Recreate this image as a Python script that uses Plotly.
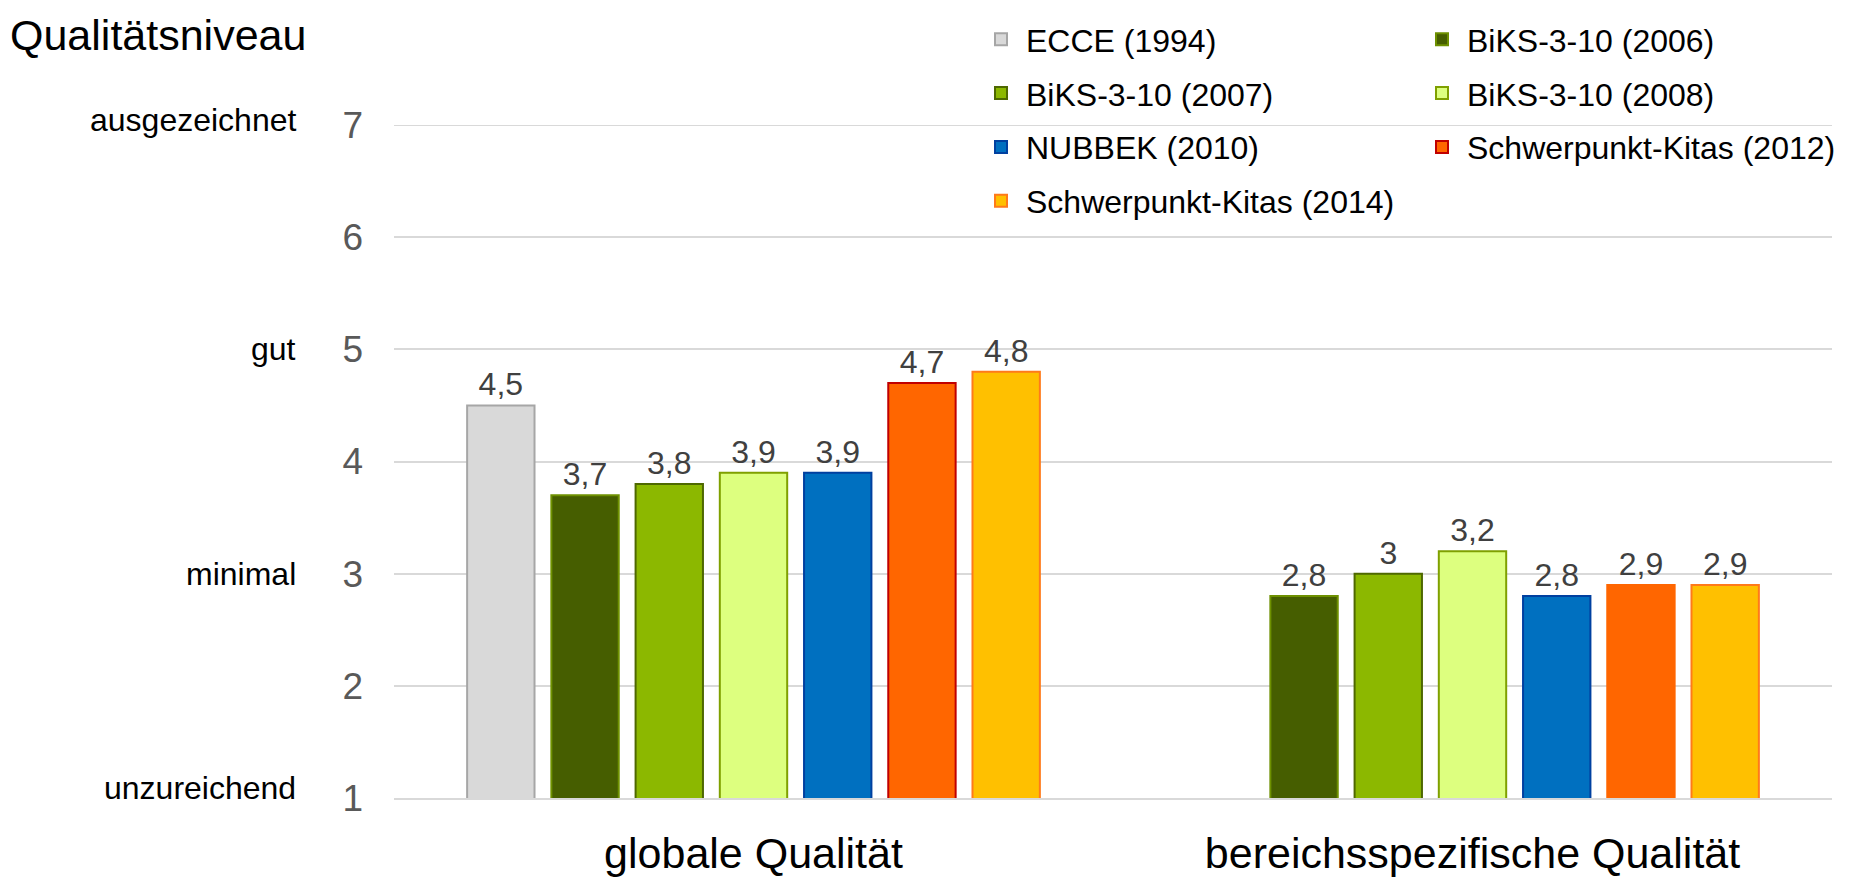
import plotly.graph_objects as go

categories = ["globale Qualität", "bereichsspezifische Qualität"]

series_names = [
    "ECCE (1994)",
    "BiKS-3-10 (2006)",
    "BiKS-3-10 (2007)",
    "BiKS-3-10 (2008)",
    "NUBBEK (2010)",
    "Schwerpunkt-Kitas (2012)",
    "Schwerpunkt-Kitas (2014)",
]

ecce_1994 = [4.5, None]
biks_2006 = [3.7, 2.8]
biks_2007 = [3.8, 3.0]
biks_2008 = [3.9, 3.2]
nubbek_2010 = [3.9, 2.8]
schwerpunkt_2012 = [4.7, 2.9]
schwerpunkt_2014 = [4.8, 2.9]

series_values = [ecce_1994, biks_2006, biks_2007, biks_2008,
                 nubbek_2010, schwerpunkt_2012, schwerpunkt_2014]

fill_colors = ["#D9D9D9", "#465E00", "#8CB800", "#DDFF7F", "#0070C0", "#FF6600", "#FFC000"]
line_colors = [
    "#A6A6A6",
    "#6E9000",
    "#4E6800",
    "#7FA000",
    "#0040A0",
    ["#C00000", "#FF6600"],
    "#FF7A1A",
]

level_names = ["ausgezeichnet", "gut", "minimal", "unzureichend"]
level_values = [7, 5, 3, 1]
level_shift = [5, 0, 0, 10]

y_ticks = [1, 2, 3, 4, 5, 6, 7]

FONT = "Liberation Sans, Arial, sans-serif"

# figure geometry (pixels)
W, H = 1855, 889
L, R, T, B = 394, 23, 120, 69
pw, ph = W - L - R, H - T - B


def px_x(x):
    return (x - L) / pw


def px_y(y):
    return (H - B - y) / ph


def fmt(v):
    if v is None:
        return ""
    return f"{v:g}".replace(".", ",")


# legend positions (legend box left x, row centre y) in pixels
legend_pos = [
    (976, 31), (1417, 31),
    (976, 87), (1417, 87),
    (976, 143), (1417, 143),
    (976, 199),
]

fig = go.Figure()
layout_legends = {}
for i, (name, vals) in enumerate(zip(series_names, series_values)):
    lname = "legend" if i == 0 else f"legend{i + 1}"
    fig.add_trace(go.Bar(
        x=categories,
        y=vals,
        name=name,
        marker=dict(color=fill_colors[i], line=dict(color=line_colors[i], width=2)),
        text=[fmt(v) for v in vals],
        textposition="outside",
        textfont=dict(family=FONT, size=32, color="#404040"),
        cliponaxis=False,
        legend=lname,
    ))
    lx, ly = legend_pos[i]
    layout_legends[lname] = dict(
        x=px_x(lx), y=px_y(ly), xanchor="left", yanchor="middle",
        xref="paper", yref="paper", itemwidth=40,
        font=dict(family=FONT, size=32, color="#000000"),
        bgcolor="rgba(0,0,0,0)",
        itemclick=False, itemdoubleclick=False,
    )

annotations = [
    dict(text="Qualitätsniveau", xref="paper", yref="paper",
         x=px_x(8), y=px_y(26), xanchor="left", yanchor="middle",
         showarrow=False, font=dict(family=FONT, size=43, color="#000000")),
]
for name, val, sh in zip(level_names, level_values, level_shift):
    annotations.append(dict(
        text=name, xref="paper", yref="y", x=px_x(298), y=val, yshift=sh,
        xanchor="right", yanchor="middle", showarrow=False,
        font=dict(family=FONT, size=32, color="#000000"),
    ))

fig.update_layout(
    width=W, height=H,
    margin=dict(l=L, r=R, t=T, b=B, pad=0),
    paper_bgcolor="white", plot_bgcolor="white",
    barmode="group", bargap=0.18, bargroupgap=0.2,
    showlegend=True,
    annotations=annotations,
    shapes=[dict(type="line", xref="paper", x0=0, x1=1, yref="y", y0=max(y_ticks), y1=max(y_ticks),
                 line=dict(color="#D9D9D9", width=2), layer="below")],
    font=dict(family=FONT),
    hovermode=False,
    **layout_legends,
)
fig.update_yaxes(
    range=[1, 7], tickvals=y_ticks, ticktext=[str(t) for t in y_ticks],
    showgrid=True, gridcolor="#D9D9D9", gridwidth=2,
    zeroline=False, showline=False, ticks="",
    tickfont=dict(family=FONT, size=37, color="#595959"),
    ticklabelstandoff=30,
)
fig.update_xaxes(
    showgrid=False, zeroline=False, showline=True, linecolor="#D9D9D9", linewidth=2,
    ticks="", tickfont=dict(family=FONT, size=43, color="#000000"),
    ticklabelstandoff=16,
)

fig.write_html(
    "out.html",
    config={"displayModeBar": False},
    post_script="document.body.style.margin='0';document.body.style.overflow='hidden';",
)
